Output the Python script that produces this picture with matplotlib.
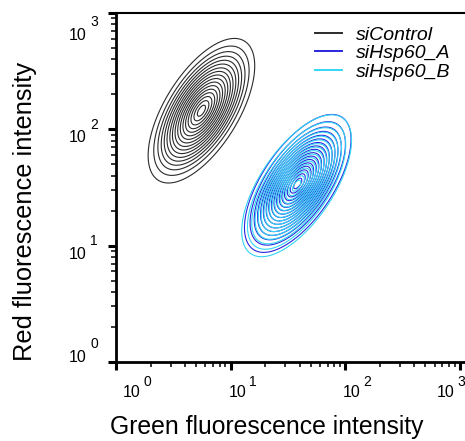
import numpy as np
import matplotlib.pyplot as plt
from matplotlib.ticker import FixedLocator, LogLocator, NullFormatter
from matplotlib.lines import Line2D

plt.rcParams['font.family'] = ['Liberation Sans', 'DejaVu Sans']

# populations, in log10 units (green, red)
groups = ['siControl', 'siHsp60_A', 'siHsp60_B']
colors = ['#2b2b2b', '#2828dc', '#33d6f5']
center_x = [0.745, 1.585, 1.575]
center_y = [2.16, 1.535, 1.515]
spread_x = [0.163, 0.163, 0.168]
spread_y = [0.218, 0.208, 0.214]
corr = [0.62, 0.64, 0.64]
# contour radii (in units of sigma)
radii = [0.22, 0.40, 0.56, 0.71, 0.85, 0.99, 1.13, 1.27, 1.41, 1.55,
         1.69, 1.84, 1.99, 2.15, 2.33, 2.55, 2.85]

decades = [0, 1, 2, 3]
# label nudges in pixels (x labels: left edge from tick, y labels: baseline from tick)
xlab_shift = [7, -2, -3, -23]
ylab_shift = [0, 13, 13, 27]

fig = plt.figure(figsize=(4.65, 4.41), dpi=100)
ax = fig.add_axes([116/465, 79/441, 349/465, 349/441])

gx = np.linspace(-0.5, 3.5, 500)
gy = np.linspace(-0.5, 3.5, 500)
GX, GY = np.meshgrid(gx, gy)

for i in range(len(groups)):
    zx = (GX - center_x[i]) / spread_x[i]
    zy = (GY - center_y[i]) / spread_y[i]
    r = corr[i]
    q = (zx**2 - 2*r*zx*zy + zy**2) / (1 - r**2)
    dens = np.exp(-q / 2)
    levels = sorted(np.exp(-np.array(radii)**2 / 2))
    ax.contour(10**GX, 10**GY, dens, levels=levels, colors=colors[i], linewidths=0.8)

ax.set_xscale('log')
ax.set_yscale('log')
ax.set_xlim(1, 10**(3 + 5/115))
ax.set_ylim(1, 1000)

ticks = [10**d for d in decades]
ax.xaxis.set_major_locator(FixedLocator(ticks))
ax.yaxis.set_major_locator(FixedLocator(ticks))
ax.xaxis.set_minor_locator(LogLocator(base=10, subs=np.arange(2, 10)))
ax.yaxis.set_minor_locator(LogLocator(base=10, subs=np.arange(2, 10)))
for a in (ax.xaxis, ax.yaxis):
    a.set_major_formatter(NullFormatter())
    a.set_minor_formatter(NullFormatter())

ax.tick_params(which='major', direction='out', length=6, width=2.2)
ax.tick_params(which='minor', direction='out', length=3.5, width=1.1)
ax.spines['right'].set_visible(False)
ax.spines['left'].set_linewidth(2)
ax.spines['bottom'].set_linewidth(2)
ax.spines['top'].set_linewidth(1.5)

# tick labels drawn as "10" plus a large raised exponent
px = 0.72
for d, t, sx in zip(decades, ticks, xlab_shift):
    ax.annotate('10', xy=(t, 0), xycoords=('data', 'axes fraction'),
                xytext=(sx*px, -35*px), textcoords='offset points',
                ha='left', va='baseline', fontsize=11.5, annotation_clip=False)
    ax.annotate(str(d), xy=(t, 0), xycoords=('data', 'axes fraction'),
                xytext=((sx + 20.5)*px, -24*px), textcoords='offset points',
                ha='left', va='baseline', fontsize=10, annotation_clip=False)
for d, t, sy in zip(decades, ticks, ylab_shift):
    ax.annotate('10', xy=(0, t), xycoords=('axes fraction', 'data'),
                xytext=(-30*px, -sy*px), textcoords='offset points',
                ha='right', va='baseline', fontsize=11.5, annotation_clip=False)
    ax.annotate(str(d), xy=(0, t), xycoords=('axes fraction', 'data'),
                xytext=(-26*px, -(sy - 13.5)*px), textcoords='offset points',
                ha='left', va='baseline', fontsize=10, annotation_clip=False)

ax.set_xlabel('Green fluorescence intensity', fontsize=17.8)
ax.set_ylabel('Red fluorescence intensity', fontsize=18.3)
ax.xaxis.set_label_coords(0.433, -0.151)
ax.yaxis.set_label_coords(-0.225, 0.431)

handles = [Line2D([], [], color=c, lw=1.4) for c in colors]
leg = ax.legend(handles, groups, loc='upper left', frameon=False, fontsize=14,
                handlelength=1.4, handletextpad=0.7, labelspacing=0.05,
                borderpad=0, borderaxespad=0, bbox_to_anchor=(0.570, 0.963))
for t in leg.get_texts():
    t.set_style('italic')

fig.savefig('out.png', dpi=100)
